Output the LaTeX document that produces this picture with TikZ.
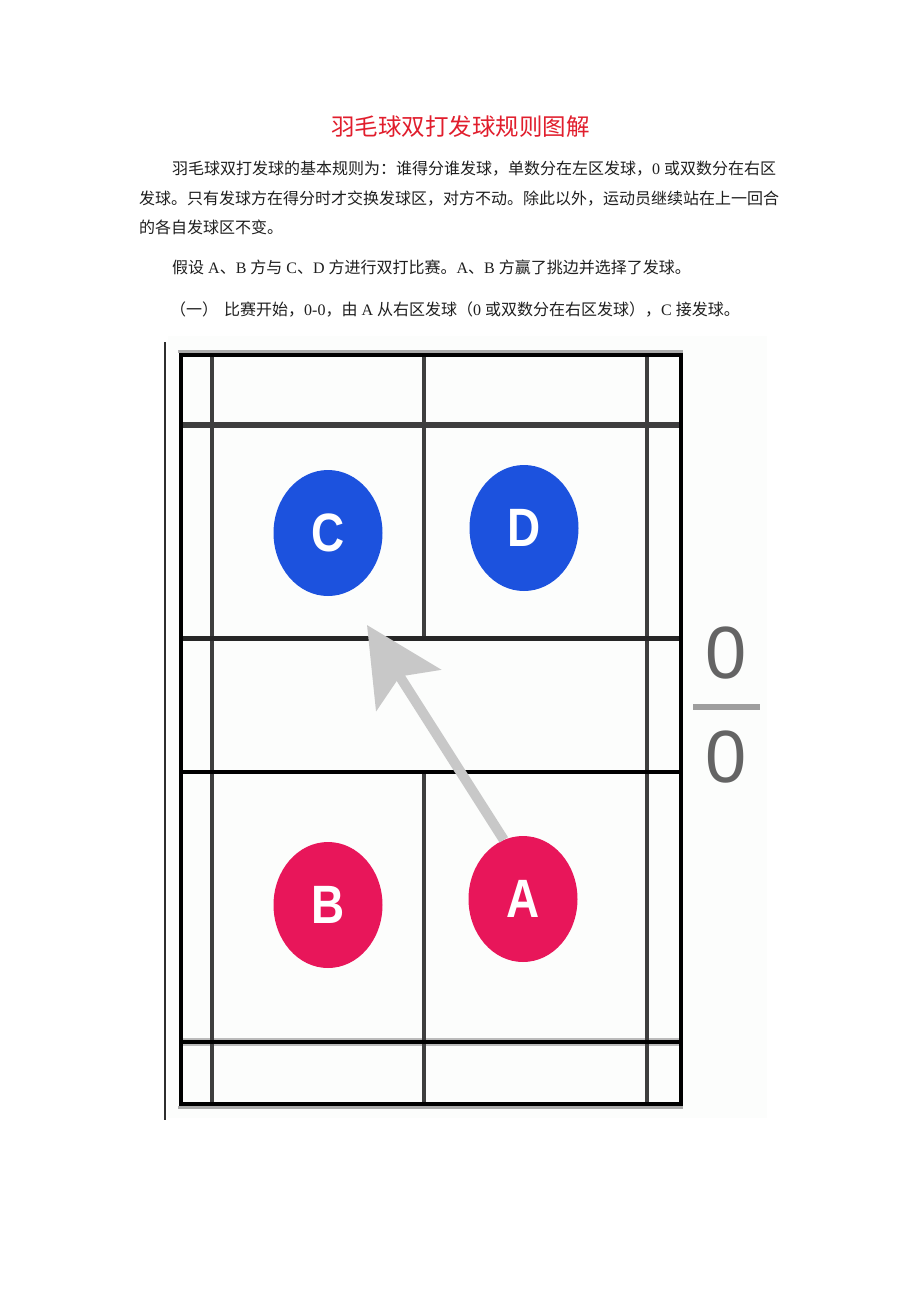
\documentclass[tikz,border=0pt]{standalone}
\usepackage{fontspec}
\usepackage{graphicx}
\setmainfont{Noto Sans CJK SC}
\newfontfamily\latf{Liberation Serif}
\newfontfamily\arialf{Liberation Sans}
\usetikzlibrary{arrows.meta,shapes.geometric}
\XeTeXlinebreaklocale "zh"
\XeTeXlinebreakskip=0pt plus 2pt
\newcommand\rl[1]{{\latf #1}}
\newcommand\gapsp{\hspace{4pt}}
\definecolor{titlered}{RGB}{225,30,45}
\definecolor{pblue}{RGB}{28,82,222}
\definecolor{pred}{RGB}{232,22,90}
\definecolor{arrgrey}{RGB}{200,200,200}
\definecolor{lineg}{RGB}{62,62,62}
\definecolor{fringe}{RGB}{170,170,170}
\definecolor{imgbg}{RGB}{252,253,252}
\definecolor{scoreg}{RGB}{100,100,100}
\definecolor{barg}{RGB}{158,158,158}
\begin{document}
\begin{tikzpicture}[x=1pt,y=-1pt,
  txt/.style={anchor=base west,inner sep=0pt,font=\fontsize{16}{16}\selectfont,text=black!88},
  player/.style={ellipse,minimum width=109pt,minimum height=126pt,inner sep=0pt,text=white,
    font=\arialf\bfseries\fontsize{54}{54}\selectfont},
  outerl/.style={line width=4pt,draw=black},
  innerl/.style={line width=4pt,draw=lineg},
  fringel/.style={line width=3pt,draw=fringe},
  score/.style={inner sep=0pt,text=scoreg,font=\arialf\fontsize{74}{74}\selectfont}]
\useasboundingbox (0,0) rectangle (920,1302);
\fill[white] (0,0) rectangle (920,1302);

% texts
\node[anchor=base,inner sep=0pt,font=\fontsize{23.5}{24}\selectfont,text=titlered] (title) at (460.5,135) {羽毛球双打发球规则图解};
\node[txt] (l1) at (172,174) {\makebox[608pt][s]{羽毛球双打发球的基本规则为：谁得分谁发球，单数分在左区发球，\rl{0}\gapsp 或双数分在右区}};
\node[txt] (l2) at (139,204) {\makebox[641pt][s]{发球。只有发球方在得分时才交换发球区，对方不动。除此以外，运动员继续站在上一回合}};
\node[txt] (l3) at (139,233) {的各自发球区不变。};
\node[txt] (l4) at (172,273) {\makebox[527pt][s]{假设\gapsp\rl{A}、\rl{B}\gapsp 方与\gapsp\rl{C}、\rl{D}\gapsp 方进行双打比赛。\rl{A}、\rl{B}\gapsp 方赢了挑边并选择了发球。}};
\node[txt] (l5) at (170,315) {\makebox[580pt][s]{（一）\hspace{6pt}比赛开始，\rl{0-0}，由\gapsp\rl{A}\gapsp 从右区发球（\rl{0}\gapsp 或双数分在右区发球），\rl{C}\gapsp 接发球。}};

% picture background and margin line
\fill[imgbg] (168,336) rectangle (767,1118);
\draw[line width=2.5pt,draw=black!82] (165,342) -- (165,1120);

% court fringes
\draw[fringel] (178,351) -- (683,351);
\draw[fringel] (178,1107) -- (683,1107);
\draw[line width=8pt,draw=fringe!80] (182,1042) -- (679,1042);

% court lines
\draw[innerl] (212,355) -- (212,1104);
\draw[innerl] (647,355) -- (647,1104);
\draw[innerl] (424,355) -- (424,638);
\draw[innerl] (424,772) -- (424,1104);
\draw[line width=6.5pt,draw=lineg] (180.5,425) -- (681,425);
\draw[line width=5pt,draw=black!85] (180.5,638) -- (681,638);
\draw[outerl] (180.5,772) -- (681,772);
\draw[line width=3.5pt,draw=black] (180.5,1042) -- (681,1042);
\draw[outerl] (180.5,355) rectangle (681,1104);

% players
\node[player,fill=pblue] (C) at (328,533) {\scalebox{0.85}[1]{C}};
\node[player,fill=pblue] (D) at (524,528) {\scalebox{0.85}[1]{D}};
\node[player,fill=pred] (B) at (328,905) {\scalebox{0.85}[1]{B}};
\node[player,fill=pred] (A) at (523,899) {\scalebox{0.85}[1]{A}};

% serve arrow
\coordinate (tip) at (367,625);
\draw[draw=arrgrey,fill=arrgrey,line width=10pt,-{Stealth[length=77pt,width=76pt,inset=16pt]}] (A.108) -- (tip);

% score
\node[score] (s1) at (726,653) {0};
\draw[line width=6pt,draw=barg] (693,707) -- (760,707);
\node[score] (s2) at (726,757) {0};
\end{tikzpicture}
\end{document}
